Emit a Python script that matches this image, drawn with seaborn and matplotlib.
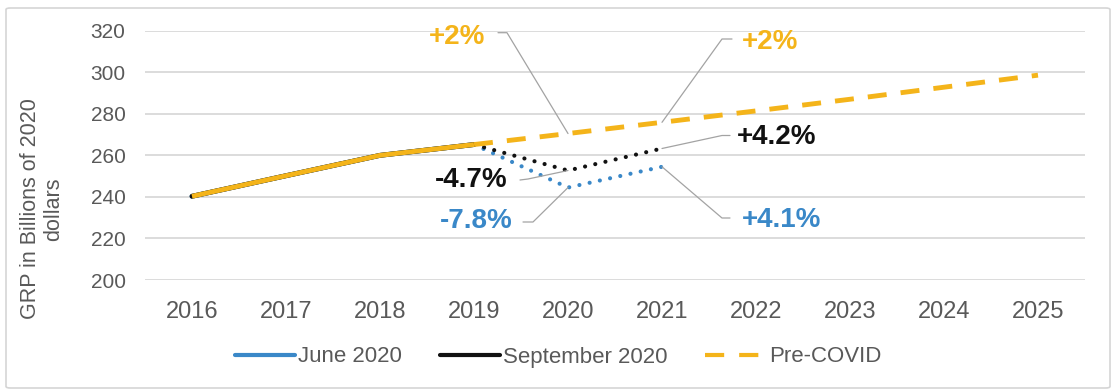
import matplotlib
matplotlib.use("Agg")
import matplotlib.pyplot as plt
from matplotlib.lines import Line2D
from matplotlib.patches import FancyBboxPatch
from matplotlib.transforms import IdentityTransform
import seaborn as sns
import pandas as pd

# ---- data -------------------------------------------------------------
years = [2016, 2017, 2018, 2019, 2020, 2021, 2022, 2023, 2024, 2025]
year_labels = ["2016", "2017", "2018", "2019", "2020", "2021", "2022", "2023", "2024", "2025"]

hist_years = [2016, 2017, 2018, 2019]
hist_grp = [240.3, 250.2, 260.0, 265.2]

fc_years = [2019, 2020, 2021]
june_fc = [265.2, 244.5, 254.5]        # June 2020 forecast
sept_fc = [265.2, 252.7, 263.3]        # September 2020 forecast

pre_years = [2019, 2020, 2021, 2022, 2023, 2024, 2025]
pre_covid = [265.2, 270.5, 275.9, 281.4, 287.0, 292.8, 298.6]

y_ticks = [200, 220, 240, 260, 280, 300, 320]

# ---- style ------------------------------------------------------------
BLUE = "#3A88C8"
BLACK = "#111111"
GOLD = "#F4B41A"
GREY_TXT = "#595959"
GRID = "#D9D9D9"
LEADER = "#A3A3A3"

sns.set_theme(style="white")
plt.rcParams["font.family"] = ["Liberation Sans", "DejaVu Sans"]

W, H = 1116, 392
fig = plt.figure(figsize=(W / 100, H / 100), dpi=100)
ax = fig.add_axes([145 / W, 1 - 280 / H, (1085 - 145) / W, (280 - 30.7) / H])

hist_df = pd.DataFrame({"year": hist_years, "grp": hist_grp})
june_df = pd.DataFrame({"year": fc_years, "grp": june_fc})
sept_df = pd.DataFrame({"year": fc_years, "grp": sept_fc})
pre_df = pd.DataFrame({"year": pre_years, "grp": pre_covid})

dot = (0, (0.01, 2.5))
# history shared by all three series
sns.lineplot(data=hist_df, x="year", y="grp", ax=ax, color=BLUE, lw=3.5, zorder=2)
sns.lineplot(data=hist_df, x="year", y="grp", ax=ax, color=BLACK, lw=3.5, zorder=2)
# forecasts
sns.lineplot(data=june_df, x="year", y="grp", ax=ax, color=BLUE, lw=3.0,
             linestyle=dot, dash_capstyle="round", zorder=3)
sns.lineplot(data=sept_df, x="year", y="grp", ax=ax, color=BLACK, lw=3.0,
             linestyle=dot, dash_capstyle="round", zorder=4)
sns.lineplot(data=pre_df, x="year", y="grp", ax=ax, color=GOLD, lw=3.5,
             linestyle=(0, (3.9, 2.9)), dash_capstyle="butt", zorder=5)
sns.lineplot(data=hist_df, x="year", y="grp", ax=ax, color=GOLD, lw=3.5,
             solid_capstyle="butt", zorder=6)

ax.set_xlim(2015.5, 2025.5)
ax.set_ylim(200, 320)
ax.set_xticks(years)
ax.set_xticklabels(year_labels)
ax.set_yticks(y_ticks)
ax.set_xlabel("")
ax.set_ylabel("")
ax.grid(axis="y", color=GRID, lw=1.3)
ax.grid(axis="x", visible=False)
for s in ax.spines.values():
    s.set_visible(False)
ax.tick_params(axis="y", length=0, pad=14, labelsize=15, labelcolor=GREY_TXT)
ax.tick_params(axis="x", length=0, pad=15, labelsize=17, labelcolor=GREY_TXT)

fig.text(42 / W, 1 - 209 / H, "GRP in Billions of 2020\ndollars", rotation=90,
         ha="center", va="center", fontsize=15.5, color=GREY_TXT, linespacing=1.15)

# ---- callouts ----------------------------------------------------------
def callout(text, color, text_px, tail_px, elbow_px, year, value):
    fig.text(text_px[0] / W, 1 - text_px[1] / H, text, ha="center", va="center",
             fontsize=20, fontweight="bold", color=color)
    px, py = ax.transData.transform((year, value))
    fig.add_artist(Line2D([tail_px[0], elbow_px[0], px],
                          [H - tail_px[1], H - elbow_px[1], py],
                          transform=IdentityTransform(), color=LEADER, lw=0.9, zorder=1))

callout("+2%", GOLD, (457, 37.5), (498, 32.7), (507, 32.7), pre_years[1], pre_covid[1])
callout("+2%", GOLD, (770, 42), (732, 39), (722, 39), pre_years[2], pre_covid[2])
callout("+4.2%", BLACK, (777, 137.5), (730, 135.5), (722, 135.5), fc_years[2], sept_fc[2])
callout("+4.1%", BLUE, (782, 220), (730, 218), (722, 218), fc_years[2], june_fc[2])
callout("-4.7%", BLACK, (471, 180), (520, 180), (528, 179), fc_years[1], sept_fc[1])
callout("-7.8%", BLUE, (476, 221), (523, 222), (533, 222), fc_years[1], june_fc[1])

# ---- legend -------------------------------------------------------------
handles = [
    Line2D([], [], color=BLUE, lw=3),
    Line2D([], [], color=BLACK, lw=3),
    Line2D([], [], color=GOLD, lw=3, linestyle=(0, (4.6, 3.6))),
]
fig.legend(handles, ["June 2020", "September 2020", "Pre-COVID"],
           loc="center", bbox_to_anchor=(0.5, 1 - 357 / H), ncol=3, frameon=False,
           fontsize=16, handlelength=2.7, handletextpad=0.15, columnspacing=1.7,
           labelcolor=GREY_TXT)

# outer frame
fig.add_artist(FancyBboxPatch((6 / W, 4 / H), (1110 - 6) / W, (386 - 6) / H,
                              boxstyle="round,pad=0,rounding_size=0.004",
                              transform=fig.transFigure, fill=False,
                              edgecolor="#D5D5D5", lw=1.2))

fig.savefig("out.png", dpi=100)
